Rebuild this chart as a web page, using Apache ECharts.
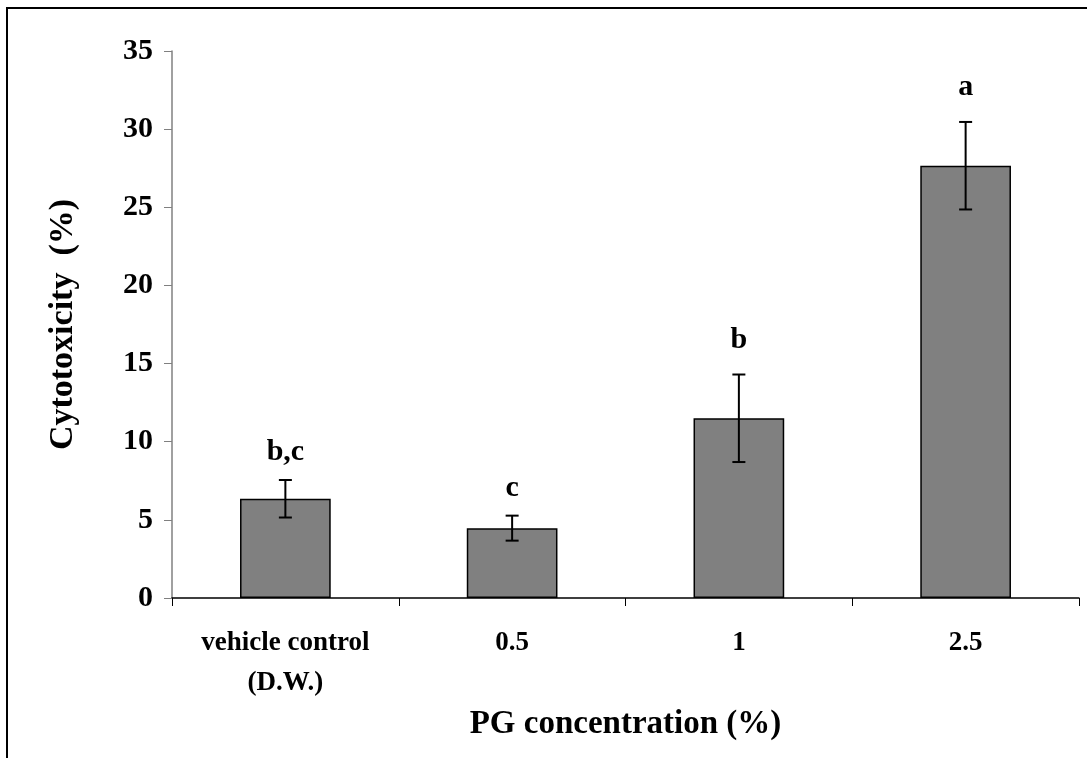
<!DOCTYPE html>
<html>
<head>
<meta charset="utf-8">
<script src="https://cdn.jsdelivr.net/npm/echarts@6/dist/echarts.min.js"></script>
<style>
html,body{margin:0;padding:0;background:#fff;}
#c{width:1087px;height:758px;}
</style>
</head>
<body>
<div id="c"></div>
<script>
const categories = ['vehicle control\n(D.W.)', '0.5', '1', '2.5'];
const means = [6.35, 4.47, 11.5, 27.66];
const errors = [1.2, 0.8, 2.8, 2.8];
const letters = ['b,c', 'c', 'b', 'a'];
const letterLevels = [9.3, 7.0, 16.5, 32.7];
const yMin = 0, yMax = 35, yStep = 5;

const FONT = 'Liberation Serif';
const chart = echarts.init(document.getElementById('c'), null, {renderer: 'canvas'});

const errData = means.map((m, i) => [i, m, errors[i]]);
const letterData = letters.map((t, i) => [i, letterLevels[i], t]);

chart.setOption({
  animation: false,
  backgroundColor: '#fff',
  graphic: [{
    type: 'rect',
    shape: {x: 7, y: 8, width: 1200, height: 900},
    style: {fill: 'none', stroke: '#000', lineWidth: 2},
    silent: true
  }],
  grid: {left: 172, right: 8, top: 51, bottom: 160, containLabel: false},
  xAxis: {
    type: 'category',
    data: categories,
    axisLine: {lineStyle: {color: '#000', width: 1.5}},
    axisTick: {show: true, length: 8, inside: false, lineStyle: {color: '#000', width: 1}},
    axisLabel: {
      fontFamily: FONT, fontWeight: 'bold', fontSize: 27, color: '#000',
      margin: 25, lineHeight: 40, interval: 0
    },
    name: 'PG concentration (%)',
    nameLocation: 'middle',
    nameGap: 89,
    nameTextStyle: {fontFamily: FONT, fontWeight: 'bold', fontSize: 33, color: '#000'}
  },
  yAxis: {
    type: 'value',
    min: yMin, max: yMax, interval: yStep,
    splitLine: {show: false},
    axisLine: {show: true, lineStyle: {color: '#808080', width: 1.5}},
    axisTick: {show: true, length: 8, lineStyle: {color: '#808080', width: 1}},
    axisLabel: {fontFamily: FONT, fontWeight: 'bold', fontSize: 30, color: '#000', margin: 19},
    name: 'Cytotoxicity  (%)',
    nameLocation: 'middle',
    nameGap: 92,
    nameTextStyle: {fontFamily: FONT, fontWeight: 'bold', fontSize: 34, color: '#000'}
  },
  series: [
    {
      type: 'bar',
      data: means,
      barWidth: '40%',
      itemStyle: {color: '#808080', borderColor: '#000', borderWidth: 1.5},
      z: 2
    },
    {
      type: 'custom',
      data: errData,
      z: 5,
      renderItem: function (params, api) {
        const i = api.value(0), m = api.value(1), e = api.value(2);
        const top = api.coord([i, m + e]);
        const bot = api.coord([i, m - e]);
        const cap = 6.5;
        const st = {stroke: '#000', lineWidth: 2};
        return {
          type: 'group',
          children: [
            {type: 'line', shape: {x1: top[0], y1: top[1], x2: bot[0], y2: bot[1]}, style: st},
            {type: 'line', shape: {x1: top[0] - cap, y1: top[1], x2: top[0] + cap, y2: top[1]}, style: st},
            {type: 'line', shape: {x1: bot[0] - cap, y1: bot[1], x2: bot[0] + cap, y2: bot[1]}, style: st}
          ]
        };
      }
    },
    {
      type: 'custom',
      data: letterData,
      z: 6,
      renderItem: function (params, api) {
        const i = api.value(0), lv = api.value(1);
        const p = api.coord([i, lv]);
        return {
          type: 'text',
          x: p[0], y: p[1],
          style: {
            text: letters[params.dataIndex],
            fontFamily: FONT, fontWeight: 'bold', fontSize: 30,
            fill: '#000', align: 'center', verticalAlign: 'middle'
          }
        };
      }
    }
  ]
});
</script>
</body>
</html>
